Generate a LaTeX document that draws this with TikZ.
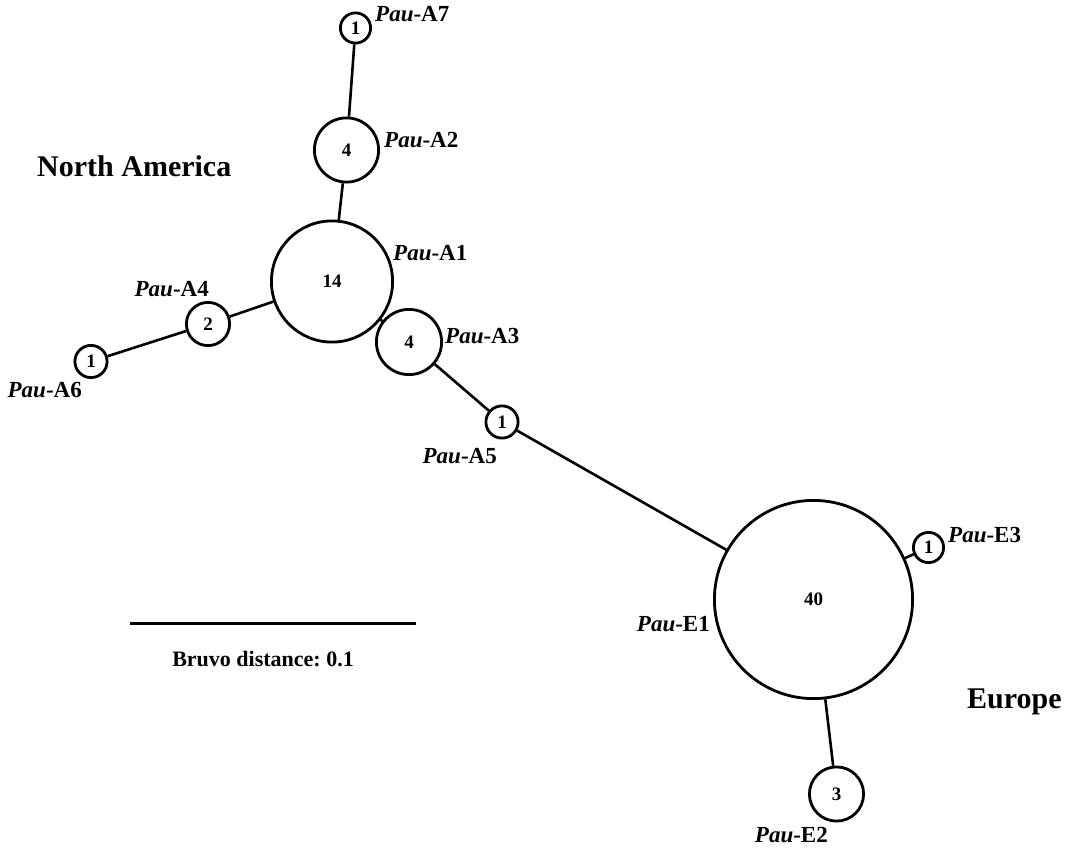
\documentclass[tikz,border=0pt]{standalone}
\usepackage{fontspec}
\setmainfont{Liberation Serif}
\usepackage{tikz}
\frenchspacing

\newcommand{\pau}[1]{\textit{Pau}-#1}

\begin{document}
\begin{tikzpicture}[x=1pt,y=-1pt,
	hap/.style={circle,draw,line width=2.8pt,inner sep=0pt,font=\fontsize{19}{19}\selectfont\bfseries},
	tag/.style={inner sep=0pt,font=\fontsize{23}{23}\selectfont\bfseries},
	region/.style={inner sep=0pt,font=\fontsize{30}{30}\selectfont\bfseries},
	link/.style={line width=2.6pt}]
	\useasboundingbox (0,0) rectangle (1067,848);
	% haplotypes
	\node[hap,minimum size=30.2pt] (A7) at (355.5,28) {1};
	\node[hap,minimum size=64.2pt] (A2) at (346.5,150) {4};
	\node[hap,minimum size=121.2pt] (A1) at (332,281.5) {14};
	\node[hap,minimum size=43.2pt] (A4) at (208,324) {2};
	\node[hap,minimum size=32.2pt] (A6) at (91,361.5) {1};
	\node[hap,minimum size=65.2pt] (A3) at (409,342) {4};
	\node[hap,minimum size=32.2pt] (A5) at (502,422) {1};
	\node[hap,minimum size=198.2pt] (E1) at (813.5,599.5) {40};
	\node[hap,minimum size=30.2pt] (E3) at (928.5,547.5) {1};
	\node[hap,minimum size=54.2pt] (E2) at (836.5,794) {3};
	\draw[link] (A7) -- (A2);
	\draw[link] (A2) -- (A1);
	\draw[link] (A1) -- (A4);
	\draw[link] (A4) -- (A6);
	\draw[link] (A1) -- (A3);
	\draw[link] (A3) -- (A5);
	\draw[link] (A5) -- (E1);
	\draw[link] (E1) -- (E3);
	\draw[link] (E1) -- (E2);
	% names
	\node[tag,anchor=base west] (tA7) at (375,22) {\pau{A7}};
	\node[tag,anchor=base west] (tA2) at (384,147) {\pau{A2}};
	\node[tag,anchor=base west] (tA1) at (393,260) {\pau{A1}};
	\node[tag,anchor=base west] (tA3) at (445,343) {\pau{A3}};
	\node[tag,anchor=base east] (tA5) at (497,463) {\pau{A5}};
	\node[tag,anchor=base east] (tA4) at (209,296) {\pau{A4}};
	\node[tag,anchor=base east] (tA6) at (82,397) {\pau{A6}};
	\node[tag,anchor=base east] (tE1) at (710,631) {\pau{E1}};
	\node[tag,anchor=base west] (tE3) at (948,542) {\pau{E3}};
	\node[tag,anchor=base east] (tE2) at (828,842) {\pau{E2}};
	\node[region,anchor=base west] (na) at (37,176) {North America};
	\node[region,anchor=base west] (eu) at (967,708) {Europe};
	% scale bar
	\coordinate (bar0) at (130,623);
	\coordinate (bar1) at (416,623);
	\draw[line width=3pt] (bar0) -- (bar1);
	\node[tag,font=\fontsize{22}{22}\selectfont\bfseries,anchor=base] (bruvo) at (263,666) {Bruvo distance: 0.1};
\end{tikzpicture}
\end{document}
